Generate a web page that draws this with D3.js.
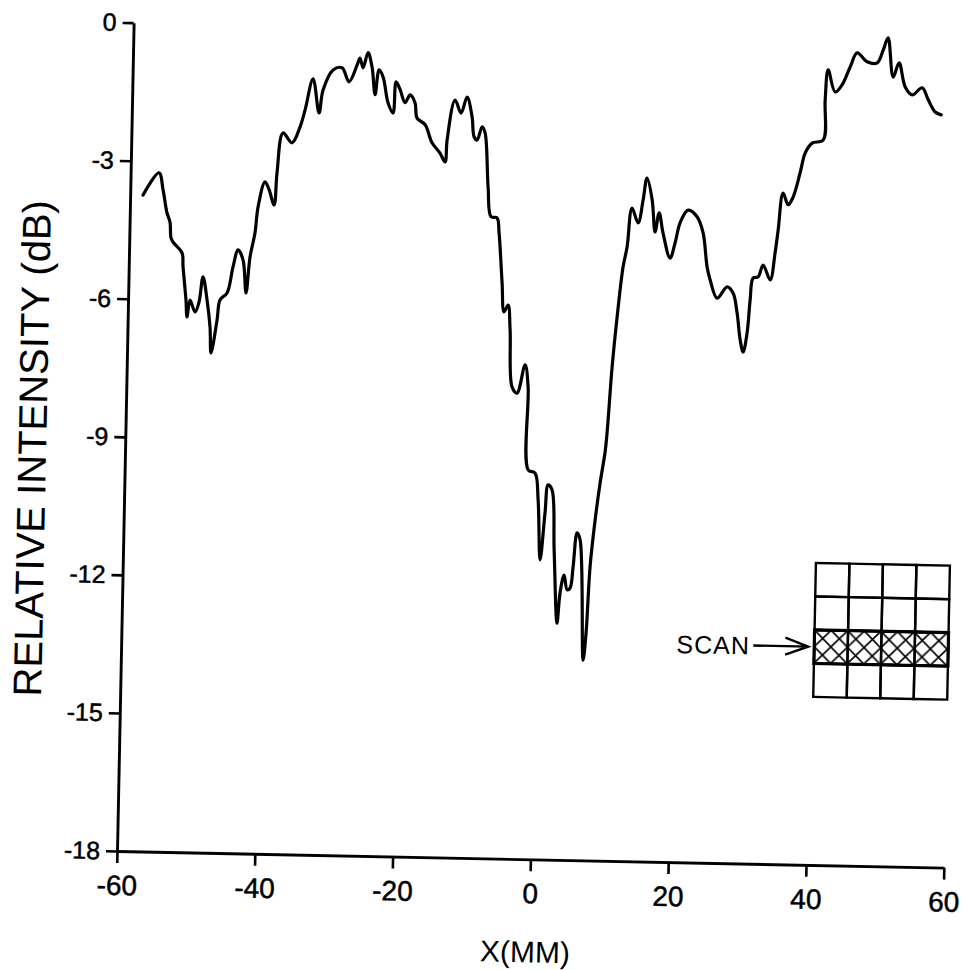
<!DOCTYPE html>
<html><head><meta charset="utf-8">
<script src="https://cdn.jsdelivr.net/npm/d3@7"></script>
<style>html,body{margin:0;padding:0;background:#fff;} svg{display:block}</style>
</head><body>
<script>
// ---- data ----
const xMM = [-58.13,-55.88,-55.24,-54.60,-54.15,-53.95,-53.64,-52.31,-52.12,-51.60,-51.40,-51.00,-50.25,-49.70,-49.19,-48.54,-48.03,-47.81,-47.03,-46.65,
-45.66,-44.87,-44.18,-43.43,-42.91,-42.43,-41.78,-41.41,-40.47,-39.86,-39.09,-38.76,-38.00,-36.67,-35.55,-34.87,-33.80,-32.84,-32.32,-30.92,
-29.63,-28.57,-27.45,-27.05,-26.58,-25.90,-25.28,-24.76,-24.25,-23.65,-22.86,-22.10,-21.75,-21.14,-20.39,-19.68,-18.94,-18.60,-17.41,-16.36,
-15.17,-14.41,-14.18,-13.13,-12.23,-11.41,-10.62,-10.28,-9.83,-9.14,-8.69,-8.10,-7.58,-6.71,-6.37,-5.79,-5.42,-4.85,-4.49,-4.04,
-3.30,-2.21,-1.71,-1.47,-0.45,0.07,0.53,1.11,1.48,2.07,2.54,3.17,3.52,4.06,4.54,4.96,5.34,5.82,6.28,7.06,
7.41,7.80,8.40,9.01,9.65,9.88,10.42,11.00,11.72,12.24,12.85,13.77,14.43,14.94,15.74,16.26,16.79,17.42,18.51,19.19,
19.86,20.99,22.31,23.23,23.91,24.39,25.45,26.87,27.75,28.39,28.92,29.38,29.90,30.25,30.61,31.34,32.03,33.09,33.73,34.11,
34.72,35.49,36.18,37.13,37.80,38.78,40.38,40.55,40.90,41.97,42.97,44.08,45.05,46.53,47.98,48.82,49.50,50.35,51.17,52.12,
53.16,54.58,55.50,56.54,57.43];
const intensityDB = [-3.74,-3.25,-3.62,-4.12,-4.31,-4.66,-4.75,-4.98,-5.28,-6.00,-6.37,-6.00,-6.26,-6.04,-5.49,-5.99,-6.58,-7.14,-6.42,-5.98,
-5.83,-5.26,-4.89,-5.11,-5.82,-5.04,-4.51,-3.95,-3.40,-3.57,-3.90,-3.20,-2.33,-2.54,-2.19,-1.82,-1.14,-1.88,-1.38,-0.94,
-0.89,-1.19,-0.82,-0.67,-0.88,-0.55,-0.86,-1.46,-0.92,-1.07,-1.63,-1.85,-1.17,-1.34,-1.62,-1.45,-1.62,-1.95,-2.09,-2.48,
-2.70,-2.89,-2.41,-1.54,-1.82,-1.47,-1.90,-2.33,-2.40,-2.11,-2.24,-3.41,-4.06,-4.08,-4.41,-5.49,-6.12,-5.97,-6.51,-7.75,
-7.88,-7.26,-7.74,-9.54,-9.61,-10.19,-11.49,-10.47,-9.86,-9.97,-11.27,-12.86,-12.20,-11.81,-12.13,-12.09,-11.63,-10.89,-11.04,-13.65,
-13.06,-11.62,-10.60,-9.80,-9.12,-8.70,-7.27,-6.18,-5.09,-4.66,-3.81,-4.13,-3.63,-3.15,-3.62,-4.32,-3.90,-4.34,-4.88,-4.55,
-4.11,-3.83,-3.97,-4.32,-5.06,-5.34,-5.73,-5.48,-5.61,-6.04,-6.63,-6.89,-6.47,-5.75,-5.28,-5.25,-4.99,-5.31,-4.72,-4.22,
-3.42,-3.67,-3.50,-2.97,-2.54,-2.32,-2.25,-1.38,-0.72,-1.20,-1.04,-0.65,-0.34,-0.53,-0.55,-0.27,0.00,-0.85,-0.54,-1.06,
-1.23,-1.07,-1.33,-1.59,-1.65];
const xTicks = [-60,-40,-20,0,20,40,60];
const yTicks = [0,-3,-6,-9,-12,-15,-18];
const xTitle = "X(MM)";
const yTitle = "RELATIVE INTENSITY (dB)";
const insetText = "SCAN";
const insetRows = [0,1,2,3];
const insetCols = [0,1,2,3];
const scanRow = 2;

// ---- layout ----
const W = 967, H = 970;
const mLeft = 117, mRight = 944, mTop = 22.5, mBottom = 851;
const font = "'Liberation Sans', Arial, sans-serif";

const svg = d3.select("body").append("svg").attr("width", W).attr("height", H);
const g = svg.append("g").attr("transform", `rotate(1.15 ${mLeft} ${mBottom})`);

const x = d3.scaleLinear().domain([-60, 60]).range([mLeft, mRight]);
const y = d3.scaleLinear().domain([-18, 0]).range([mBottom, mTop]);

// axes
const xAxis = g.append("g").attr("transform", `translate(0,${mBottom})`)
  .call(d3.axisBottom(x).tickValues(xTicks).tickFormat(d => String(d))
    .tickSize(12).tickSizeOuter(0).tickPadding(12));
const yAxis = g.append("g").attr("transform", `translate(${mLeft},0)`)
  .call(d3.axisLeft(y).tickValues(yTicks).tickFormat(d => String(d))
    .tickSize(11).tickSizeOuter(0).tickPadding(6));
[xAxis, yAxis].forEach(a => {
  a.select(".domain").attr("stroke", "#000").attr("stroke-width", 2.9);
  a.selectAll(".tick line").attr("stroke", "#000").attr("stroke-width", 2.6);
  a.selectAll(".tick text").attr("fill", "#000").style("font-family", font)
    .attr("stroke", "#000").attr("stroke-width", 0.5);
});
xAxis.selectAll(".tick text").style("font-size", "28px");
yAxis.selectAll(".tick text").style("font-size", "25px");

// titles
g.append("text").attr("transform", "translate(38,450) rotate(-90)")
  .attr("text-anchor", "middle").style("font-family", font).style("font-size", "40px")
  .attr("fill", "#000").text(yTitle);
g.append("text").attr("x", 527).attr("y", 954)
  .attr("text-anchor", "middle").style("font-family", font).style("font-size", "30px")
  .attr("fill", "#000").text(xTitle);

// curve
const pts = xMM.map((v, i) => [v, intensityDB[i]]);
g.append("path").datum(pts)
  .attr("fill", "none").attr("stroke", "#000").attr("stroke-width", 3.2)
  .attr("stroke-linejoin", "round").attr("stroke-linecap", "round")
  .attr("d", d3.line().x(d => x(d[0])).y(d => y(d[1])).curve(d3.curveCatmullRom.alpha(0.5)));

// inset grid
const ix0 = 810, iy0 = 549, iw = 134, ih = 134;
const cw = iw / insetCols.length, ch = ih / insetRows.length;
const hs = 16.6;
const defs = svg.append("defs");
const pat = defs.append("pattern").attr("id", "xhatch").attr("patternUnits", "userSpaceOnUse")
  .attr("x", ix0).attr("y", iy0 + scanRow * ch).attr("width", hs).attr("height", hs);
pat.append("path").attr("d", `M0,0L${hs},${hs}M0,${hs}L${hs},0M-2,-2L2,2M${hs-2},${hs+2}L${hs+2},${hs-2}`)
  .attr("stroke", "#000").attr("stroke-width", 1.6).attr("fill", "none");
const inset = g.append("g");
inset.append("rect").attr("x", ix0).attr("y", iy0 + scanRow * ch).attr("width", iw).attr("height", ch)
  .attr("fill", "url(#xhatch)");
insetRows.forEach(r => insetCols.forEach(c => {
  inset.append("rect").attr("x", ix0 + c * cw).attr("y", iy0 + r * ch).attr("width", cw).attr("height", ch)
    .attr("fill", "none").attr("stroke", "#000").attr("stroke-width", 2.4);
}));
inset.append("rect").attr("x", ix0).attr("y", iy0 + scanRow * ch).attr("width", iw).attr("height", ch)
  .attr("fill", "none").attr("stroke", "#000").attr("stroke-width", 3.2);
const ay = iy0 + (scanRow + 0.5) * ch;
inset.append("text").attr("x", 709).attr("y", ay + 9).attr("text-anchor", "middle")
  .style("font-family", font).style("font-size", "25px").style("letter-spacing", "1px")
  .attr("fill", "#000").text(insetText);
inset.append("path").attr("d", `M749,${ay}L${ix0 - 6},${ay}M${ix0 - 29},${ay - 8.5}L${ix0 - 6},${ay}L${ix0 - 29},${ay + 8.5}`)
  .attr("fill", "none").attr("stroke", "#000").attr("stroke-width", 2.4);
</script>
</body></html>
